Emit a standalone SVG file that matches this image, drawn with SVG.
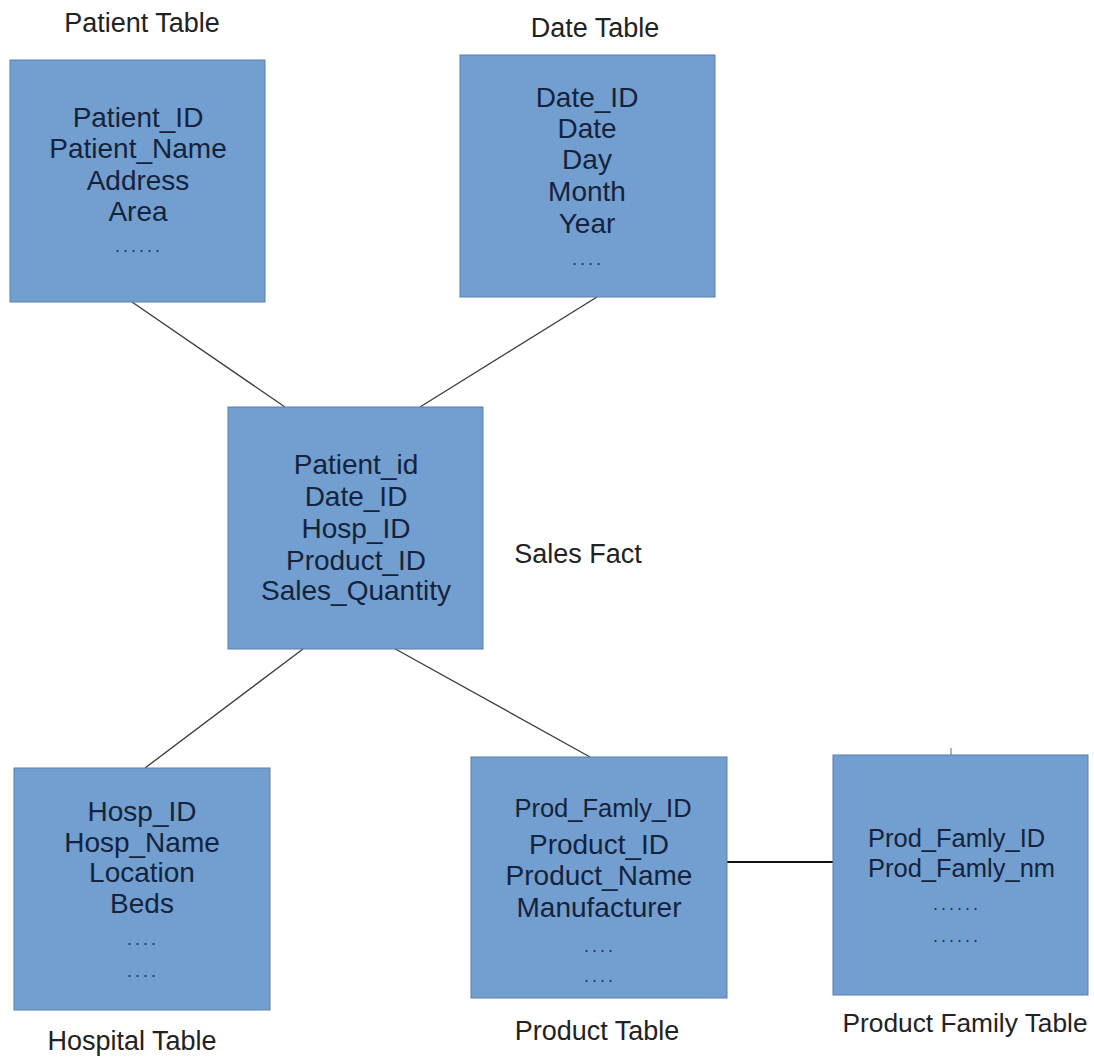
<svg xmlns="http://www.w3.org/2000/svg" width="1094" height="1059" viewBox="0 0 1094 1059">
  <style>
    .box { fill: #729fcf; stroke: #5b7fa9; stroke-width: 1; }
    .field { font-family: "Liberation Sans", Arial, sans-serif; font-size: 28px; fill: #15233d; text-anchor: middle; }
    .field-narrow { font-size: 25.5px; }
    .field-left { font-family: "Liberation Sans", Arial, sans-serif; font-size: 25.5px; fill: #15233d; text-anchor: start; }
    .dots { font-family: "Liberation Sans", Arial, sans-serif; font-size: 18px; fill: #1f3358; text-anchor: middle; letter-spacing: 3px; }
    .title { font-family: "Liberation Sans", Arial, sans-serif; font-size: 27px; fill: #222222; text-anchor: middle; }
    .title-small { font-size: 26.3px; }
    .link { stroke: #3a3a3a; stroke-width: 1.3; fill: none; }
    .link-strong { stroke: #111111; stroke-width: 2; fill: none; }
  </style>

  <rect x="0" y="0" width="1094" height="1059" fill="#ffffff"/>

  <!-- relationships between the fact table and its dimensions -->
  <g id="connectors">
    <line class="link" x1="132" y1="302" x2="285" y2="407"/>
    <line class="link" x1="597" y1="297" x2="420" y2="407"/>
    <line class="link" x1="303" y1="649" x2="145" y2="768"/>
    <line class="link" x1="390" y1="646" x2="590" y2="757"/>
    <line class="link-strong" x1="727" y1="862" x2="833" y2="862"/>
    <line stroke="#8aa0bd" stroke-width="1.5" x1="951" y1="748" x2="951" y2="756"/>
  </g>

  <g id="patient-table">
    <text class="title" x="142" y="32">Patient Table</text>
    <rect class="box" x="10" y="60" width="255" height="242"/>
    <text class="field" x="138" y="127">Patient_ID</text>
    <text class="field" x="138" y="158">Patient_Name</text>
    <text class="field" x="138" y="190">Address</text>
    <text class="field" x="138" y="221">Area</text>
    <text class="dots" x="139" y="252">......</text>
  </g>

  <g id="date-table">
    <text class="title" x="595" y="37">Date Table</text>
    <rect class="box" x="460" y="55" width="255" height="242"/>
    <text class="field" x="587" y="107">Date_ID</text>
    <text class="field" x="587" y="138">Date</text>
    <text class="field" x="587" y="169">Day</text>
    <text class="field" x="587" y="201">Month</text>
    <text class="field" x="587" y="233">Year</text>
    <text class="dots" x="588" y="265">....</text>
  </g>

  <g id="sales-fact">
    <rect class="box" x="228" y="407" width="255" height="242"/>
    <text class="field" x="356" y="474">Patient_id</text>
    <text class="field" x="356" y="506">Date_ID</text>
    <text class="field" x="356" y="538">Hosp_ID</text>
    <text class="field" x="356" y="570">Product_ID</text>
    <text class="field" x="356" y="600">Sales_Quantity</text>
    <text class="title" x="578" y="563">Sales Fact</text>
  </g>

  <g id="hospital-table">
    <rect class="box" x="14" y="768" width="256" height="242"/>
    <text class="field" x="142" y="821">Hosp_ID</text>
    <text class="field" x="142" y="852">Hosp_Name</text>
    <text class="field" x="142" y="882">Location</text>
    <text class="field" x="142" y="913">Beds</text>
    <text class="dots" x="143" y="945">....</text>
    <text class="dots" x="143" y="977">....</text>
    <text class="title" x="132" y="1050">Hospital Table</text>
  </g>

  <g id="product-table">
    <rect class="box" x="471" y="757" width="256" height="241"/>
    <text class="field field-narrow" x="603" y="817">Prod_Famly_ID</text>
    <text class="field" x="599" y="854">Product_ID</text>
    <text class="field" x="599" y="885">Product_Name</text>
    <text class="field" x="599" y="917">Manufacturer</text>
    <text class="dots" x="600" y="952">....</text>
    <text class="dots" x="600" y="982">....</text>
    <text class="title" x="597" y="1040">Product Table</text>
  </g>

  <g id="product-family-table">
    <rect class="box" x="833" y="755" width="255" height="240"/>
    <text class="field-left" x="868" y="847">Prod_Famly_ID</text>
    <text class="field-left" x="868" y="877">Prod_Famly_nm</text>
    <text class="dots" x="957" y="910">......</text>
    <text class="dots" x="957" y="942">......</text>
    <text class="title title-small" x="965" y="1032">Product Family Table</text>
  </g>
</svg>
